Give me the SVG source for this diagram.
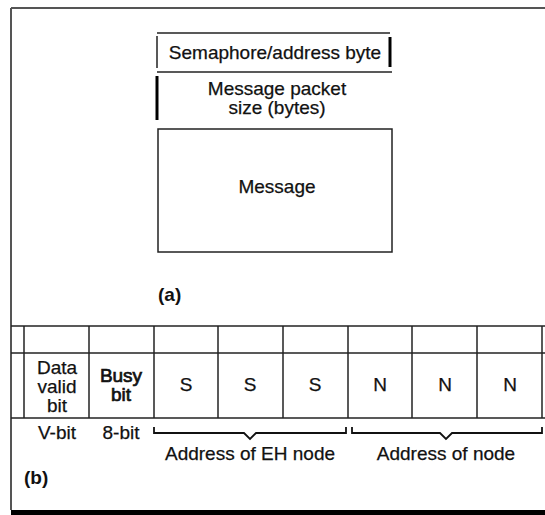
<svg xmlns="http://www.w3.org/2000/svg" width="545" height="515" viewBox="0 0 545 515">
  <style>
    text { font-family: "Liberation Sans", Arial, sans-serif; font-size: 19px; fill: #111; stroke: #111; stroke-width: 0.25; text-anchor: middle; }
    .lbl { font-weight: bold; text-anchor: start; stroke-width: 0; }
    .frame { stroke: #555; stroke-width: 2; fill: none; }
    .rule { stroke: #222; stroke-width: 1.5; fill: none; }
    .bar { stroke: #000; stroke-width: 3; fill: none; }
    .cell { stroke: #222; stroke-width: 1.5; fill: none; }
    .brace { stroke: #111; stroke-width: 1.8; fill: none; }
    .heavy { stroke-width: 0.7; }
  </style>
  <rect width="545" height="515" fill="#fff"/>

  <!-- outer frame -->
  <g id="frame">
    <line class="frame" x1="11" y1="8" x2="545" y2="8"/>
    <line class="frame" x1="11" y1="8" x2="11" y2="510"/>
    <rect x="11" y="510" width="534" height="5" fill="#000"/>
    <line class="rule" x1="11" y1="326" x2="545" y2="326"/>
  </g>

  <!-- (a) message packet layout -->
  <g id="semaphore">
    <line class="rule" x1="157" y1="33" x2="390" y2="33"/>
    <line class="rule" x1="157" y1="72" x2="392" y2="72"/>
    <line class="rule" x1="157" y1="36" x2="157" y2="68"/>
    <line class="bar" x1="390" y1="37" x2="390" y2="67"/>
    <text x="275" y="59">Semaphore/address byte</text>
  </g>
  <g id="packet-size">
    <line class="bar" x1="157" y1="76" x2="157" y2="120"/>
    <text x="277" y="95">Message packet</text>
    <text x="277" y="114">size (bytes)</text>
  </g>
  <g id="message">
    <rect class="rule" x="158" y="129" width="234" height="123"/>
    <text x="277" y="193">Message</text>
  </g>
  <text class="lbl" x="158" y="301">(a)</text>

  <!-- (b) address byte bit fields -->
  <g id="table">
    <line class="cell" x1="11" y1="353" x2="545" y2="353"/>
    <line class="cell" x1="11" y1="418" x2="545" y2="418"/>
    <line class="cell" x1="24" y1="326" x2="24" y2="418" stroke="#555"/>
    <line class="cell" x1="89" y1="326" x2="89" y2="418"/>
    <line class="cell" x1="154" y1="326" x2="154" y2="418"/>
    <line class="cell" x1="218" y1="326" x2="218" y2="418"/>
    <line class="cell" x1="283" y1="326" x2="283" y2="418"/>
    <line class="cell" x1="348" y1="326" x2="348" y2="418"/>
    <line class="cell" x1="412" y1="326" x2="412" y2="418"/>
    <line class="cell" x1="477" y1="326" x2="477" y2="418"/>
    <line class="cell" x1="542" y1="326" x2="542" y2="418"/>
  </g>
  <g id="bit-data-valid">
    <text x="57" y="374">Data</text>
    <text x="57" y="393">valid</text>
    <text x="57" y="412">bit</text>
  </g>
  <g id="bit-busy">
    <text class="heavy" x="121" y="382">Busy</text>
    <text class="heavy" x="121" y="401">bit</text>
  </g>
  <g id="bits-s">
    <text x="186" y="391">S</text>
    <text x="250" y="391">S</text>
    <text x="315" y="391">S</text>
  </g>
  <g id="bits-n">
    <text x="380" y="391">N</text>
    <text x="445" y="391">N</text>
    <text x="510" y="391">N</text>
  </g>
  <text x="57" y="439">V-bit</text>
  <text x="121" y="439">8-bit</text>

  <g id="connectors">
    <path class="brace" d="M154,427 V433 H244 L250,439 L256,433 H346 V427"/>
    <path class="brace" d="M352,427 V433 H440 L446,439 L452,433 H542 V427"/>
  </g>
  <text x="250" y="460">Address of EH node</text>
  <text x="446" y="460">Address of node</text>
  <text class="lbl" x="24" y="484">(b)</text>
</svg>
